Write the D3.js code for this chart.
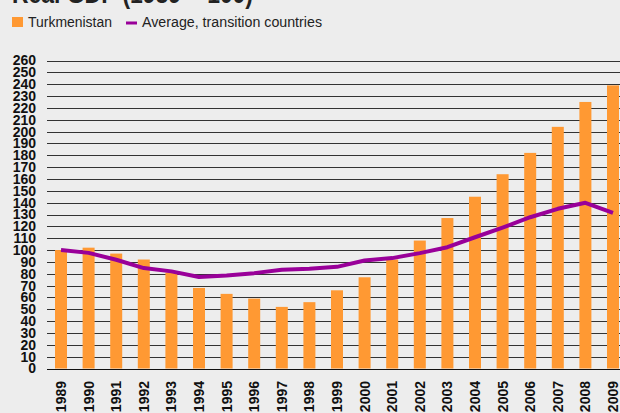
<!DOCTYPE html>
<html>
<head>
<meta charset="utf-8">
<script src="https://cdn.jsdelivr.net/npm/d3@7"></script>
<style>
  body { margin: 0; background: #ededed; }
  svg { display: block; }
</style>
</head>
<body>
<svg width="620" height="413"></svg>
<script>
var years = ['1989','1990','1991','1992','1993','1994','1995','1996','1997','1998','1999',
    '2000','2001','2002','2003','2004','2005','2006','2007','2008','2009']
var turkmenistan = [100, 102, 97, 92, 81, 68, 63, 59, 52, 56, 66,
    77, 92, 108, 127, 145, 164, 182, 204, 225, 239]
var transitionAvg = [100, 97.6, 91.8, 84.8, 82, 77.2, 78.5, 80.5, 83.3, 84.2, 85.8,
    91.2, 93.2, 97.4, 102.4, 110.8, 119, 127.7, 134.8, 139.9, 131.4]
var yTicks = d3.range(0, 261, 10)

var svg = d3.select('svg')

var x = d3.scaleBand()
    .domain(years)
    .range([55, 619])
    .paddingInner(0.565)
    .paddingOuter(0)

var y = d3.scaleLinear()
    .domain([0, 260])
    .range([368.5, 60.5])

// title, mostly cut off at the top
svg.append('text')
    .attr('x', 12)
    .attr('y', 3)
    .attr('textLength', 241)
    .attr('lengthAdjust', 'spacingAndGlyphs')
    .style('font-family', 'Liberation Sans, Arial, sans-serif')
    .style('font-weight', 'bold')
    .style('font-size', '28px')
    .style('fill', '#222')
    .text('Real GDP (1989 = 100)')

// legend
var legend = svg.append('g')
    .style('font-family', 'Liberation Sans, Arial, sans-serif')
    .style('font-size', '14px')
    .style('fill', '#222')

legend.append('rect')
    .attr('x', 12).attr('y', 17).attr('width', 11).attr('height', 10)
    .style('fill', '#ff9933')
legend.append('text')
    .attr('x', 28).attr('y', 27)
    .attr('textLength', 84)
    .attr('lengthAdjust', 'spacingAndGlyphs')
    .text('Turkmenistan')
legend.append('rect')
    .attr('x', 126).attr('y', 21.5).attr('width', 11).attr('height', 3)
    .style('fill', '#990099')
legend.append('text')
    .attr('x', 142).attr('y', 27)
    .attr('textLength', 180)
    .attr('lengthAdjust', 'spacingAndGlyphs')
    .text('Average, transition countries')

// gridlines
svg.append('g')
    .selectAll('line')
    .data(yTicks)
    .enter()
    .append('line')
    .attr('x1', 47)
    .attr('x2', 620)
    .attr('y1', function(d){ return Math.round(y(d)) + 0.5 })
    .attr('y2', function(d){ return Math.round(y(d)) + 0.5 })
    .style('stroke', function(d){ return d === 0 ? '#111' : '#333' })
    .style('stroke-width', 1)

// y axis labels
var yAxis = d3.axisLeft(y)
    .tickValues(yTicks)
    .tickSize(0)
    .tickPadding(0)

svg.append('g')
    .attr('transform', 'translate(36,0)')
    .call(yAxis)
    .call(function(g){ g.select('.domain').remove() })
    .selectAll('text')
    .style('font-family', 'Liberation Sans, Arial, sans-serif')
    .style('font-weight', 'bold')
    .style('font-size', '14px')
    .style('fill', '#111')

// bars
svg.append('g')
    .selectAll('rect')
    .data(turkmenistan)
    .enter()
    .append('rect')
    .attr('x', function(d, i){ return x(years[i]) })
    .attr('width', x.bandwidth())
    .attr('y', function(d){ return y(d) })
    .attr('height', function(d){ return y(0) - y(d) })
    .style('fill', '#ff9933')

// average line
var line = d3.line()
    .x(function(d, i){ return x(years[i]) + x.bandwidth() / 2 })
    .y(function(d){ return y(d) })

svg.append('path')
    .datum(transitionAvg)
    .attr('d', line)
    .style('fill', 'none')
    .style('stroke', '#990099')
    .style('stroke-width', 4)
    .style('stroke-linejoin', 'round')

// x axis labels, rotated
var xAxis = d3.axisBottom(x)
    .tickSize(0)
    .tickPadding(0)

svg.append('g')
    .attr('transform', 'translate(0,369)')
    .call(xAxis)
    .call(function(g){ g.select('.domain').remove() })
    .selectAll('text')
    .attr('transform', 'rotate(-90)')
    .attr('x', -12)
    .attr('y', 0)
    .attr('dy', '0.35em')
    .style('text-anchor', 'end')
    .style('font-family', 'Liberation Sans, Arial, sans-serif')
    .style('font-weight', 'bold')
    .style('font-size', '14px')
    .style('fill', '#111')
</script>
</body>
</html>
